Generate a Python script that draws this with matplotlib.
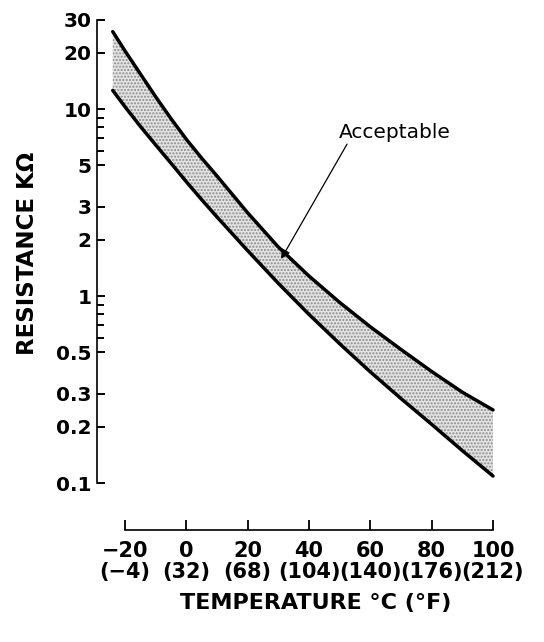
import matplotlib
matplotlib.use("Agg")
import matplotlib.pyplot as plt
import numpy as np

plt.rcParams['font.family'] = ['DejaVu Sans']

# Data
temps_c = [-24, -20, -15, -10, -5, 0, 5, 10, 20, 30, 40, 50, 60, 70, 80, 90, 100]
upper_kohm = [26.0, 20.5, 15.45, 11.65, 8.9, 6.9, 5.47, 4.39, 2.79, 1.83, 1.28, 0.925, 0.685, 0.518, 0.395, 0.306, 0.246]
lower_kohm = [12.6, 10.3, 8.09, 6.44, 5.14, 4.09, 3.28, 2.65, 1.75, 1.17, 0.798, 0.556, 0.393, 0.283, 0.206, 0.149, 0.109]

y_ticks = [0.1, 0.2, 0.3, 0.5, 1, 2, 3, 5, 10, 20, 30]
y_tick_labels = ["0.1", "0.2", "0.3", "0.5", "1", "2", "3", "5", "10", "20", "30"]
y_minor = [0.6, 0.7, 0.8, 0.9, 6, 7, 8, 9]
x_ticks = [-20, 0, 20, 40, 60, 80, 100]
x_tick_labels = ["\u221220\n(\u22124)", "0\n(32)", "20\n(68)", "40\n(104)", "60\n(140)", "80\n(176)", "100\n(212)"]

fig = plt.figure(figsize=(5.44, 6.42), dpi=100)
W, H = 544, 642
left, right, bottom, top = 97, 495, 530, 15
ax = fig.add_axes([left / W, 1 - bottom / H, (right - left) / W, (bottom - top) / H])

ax.set_yscale('log')
ppd = 187.0  # pixels per decade
ax.set_ylim(10 ** (-1 - (bottom - 483) / ppd), 10 ** (np.log10(30) + (20 - top) / ppd))
pxdeg = (493 - 125) / 120.0
ax.set_xlim(-20 - (125 - left) / pxdeg, 100 + (right - 493) / pxdeg)

ax.fill_between(temps_c, lower_kohm, upper_kohm, facecolor='#e4e4e4',
                hatch='.....', edgecolor='#8a8a8a', linewidth=0)
ax.plot(temps_c, upper_kohm, color='black', lw=2.5, solid_capstyle='round', solid_joinstyle='round')
ax.plot(temps_c, lower_kohm, color='black', lw=2.5, solid_capstyle='round', solid_joinstyle='round')

for s in ['top', 'right']:
    ax.spines[s].set_visible(False)
ax.spines['left'].set_bounds(0.1, 30)
ax.spines['bottom'].set_bounds(-20, 100)
ax.spines['left'].set_linewidth(1.2)
ax.spines['bottom'].set_linewidth(1.2)

ax.set_yticks(y_ticks)
ax.set_yticklabels(y_tick_labels, fontsize=14.5, fontweight='bold')
ax.set_yticks(y_minor, minor=True)
ax.set_yticklabels([], minor=True)
ax.tick_params(axis='y', which='major', direction='in', length=6, width=1.4, pad=4)
ax.tick_params(axis='y', which='minor', direction='in', length=5, width=1.4)

ax.set_xticks(x_ticks)
ax.set_xticklabels(x_tick_labels, fontsize=15, fontweight='bold', linespacing=1.05)
ax.xaxis.set_minor_locator(matplotlib.ticker.NullLocator())
ax.tick_params(axis='x', which='major', direction='in', length=7, width=1.3, pad=8)

ax.set_ylabel("RESISTANCE K\u03a9", fontsize=16.5, fontweight='bold', labelpad=12)
ax.yaxis.label.set_y((bottom - 253) / (bottom - top))
ax.set_xlabel("TEMPERATURE \u00b0C (\u00b0F)", fontsize=16, fontweight='bold', labelpad=8)
ax.xaxis.label.set_x((316 - left) / (right - left))

ax.text(68.0, 7.5, "Acceptable", fontsize=14.5, ha='center', va='center')
ax.annotate("", xy=(30.9, 1.58), xytext=(52.4, 6.5),
            arrowprops=dict(arrowstyle='-|>', color='black', lw=0.9,
                            mutation_scale=14, shrinkA=0, shrinkB=0))

fig.savefig("out.png", dpi=100)
